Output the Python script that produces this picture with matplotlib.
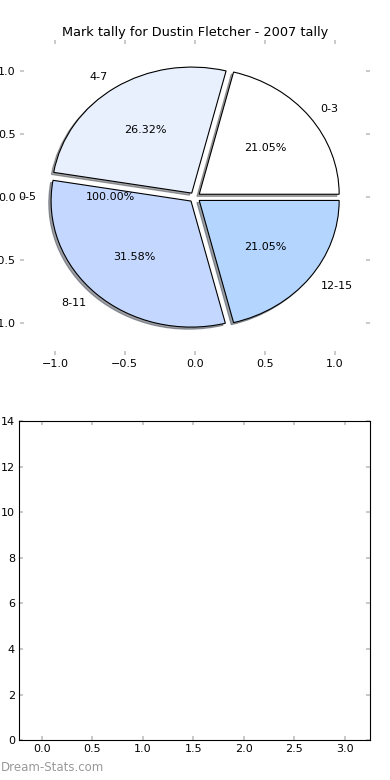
import matplotlib
matplotlib.use('Agg')
import matplotlib.pyplot as plt

# data
labels = ['0-3', '4-7', '8-11', '12-15']
counts = [4, 5, 6, 4]
colours = ['#ffffff', '#e9f0fd', '#c4d7fe', '#b3d5fe']
explode = [0.04, 0.04, 0.04, 0.04]
extra_labels = ['0-5']
extra_counts = [1]
title = 'Mark tally for Dustin Fletcher - 2007 tally'
pie_ticks = [-1.0, -0.5, 0.0, 0.5, 1.0]
bar_xticks = [0.0, 0.5, 1.0, 1.5, 2.0, 2.5, 3.0]
bar_yticks = [0, 2, 4, 6, 8, 10, 12, 14]

plt.rcParams['font.family'] = 'DejaVu Sans'
fig = plt.figure(figsize=(3.9, 7.8), dpi=100)

ax1 = fig.add_axes([0.051, 0.545, 0.897, 0.404])
wedges, texts, autotexts = ax1.pie(counts, labels=labels, colors=colours, explode=explode,
                                   autopct='%1.2f%%', shadow={'ox': -0.012, 'oy': -0.012},
                                   wedgeprops={'edgecolor': 'black', 'linewidth': 0.8})
w2, t2, a2 = ax1.pie(extra_counts, labels=extra_labels, autopct='%1.2f%%', labeldistance=1.13)
for w in w2:
    w.set_visible(False)
for t in texts + autotexts + t2 + a2:
    t.set_fontsize(8)
ax1.set_aspect('auto')
ax1.set_frame_on(True)
for s in ax1.spines.values():
    s.set_visible(False)
ax1.set_xlim(-1.25, 1.25)
ax1.set_ylim(-1.25, 1.25)
ax1.set_xticks(pie_ticks)
ax1.set_yticks(pie_ticks)
ax1.tick_params(direction='in', color='#c0c0c0', length=3, width=1.2, labelsize=8,
                top=True, right=True, pad=3)
ax1.set_title(title, fontsize=9.3, pad=3)

ax2 = fig.add_axes([0.049, 0.051, 0.9, 0.409])
ax2.set_xlim(-0.225, 3.25)
ax2.set_ylim(0, 14)
ax2.set_xticks(bar_xticks)
ax2.set_yticks(bar_yticks)
ax2.tick_params(direction='in', color='#c0c0c0', length=3, width=1.2, labelsize=8,
                top=True, right=True, pad=3)

fig.text(0.002, 0.012, 'Dream-Stats.com', color='#999999', fontsize=8.5)

fig.savefig('out.png', dpi=100)
